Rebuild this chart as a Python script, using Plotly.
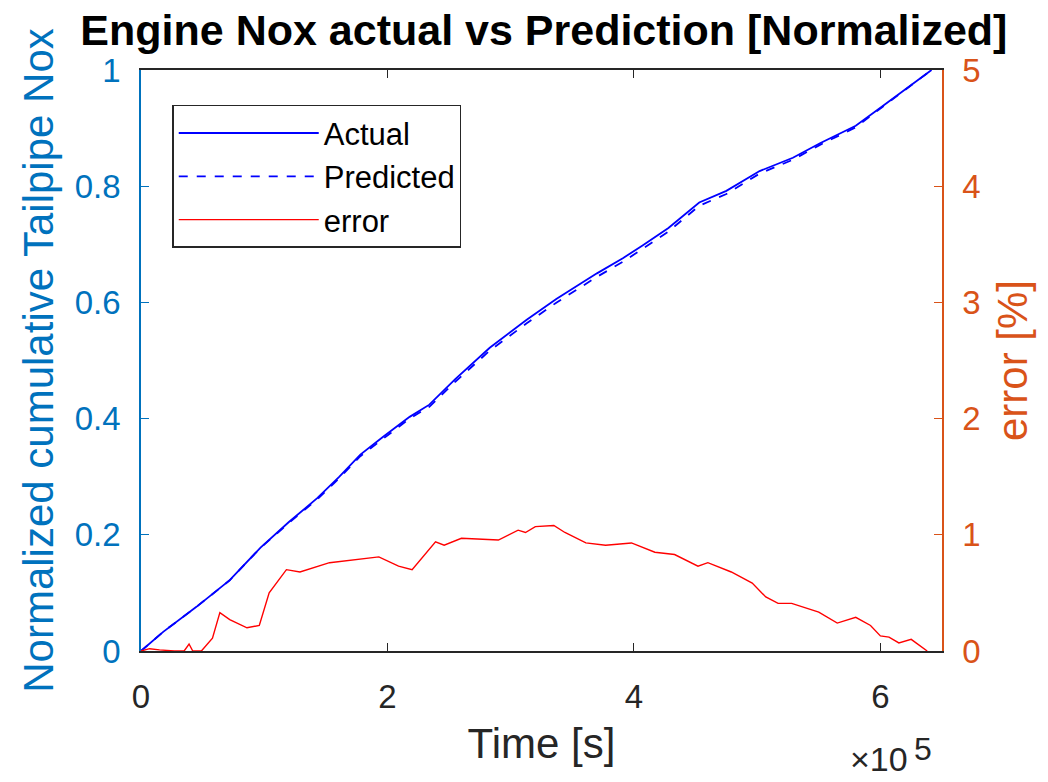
import plotly.graph_objects as go

# ---- data (time in seconds) ----
t_actual = [0, 0.18e5, 0.45e5, 0.72e5, 0.97e5, 1.20e5, 1.43e5, 1.61e5, 1.78e5, 1.96e5,
            2.18e5, 2.34e5, 2.55e5, 2.83e5, 3.13e5, 3.37e5, 3.70e5, 3.91e5, 4.07e5, 4.28e5,
            4.53e5, 4.75e5, 5.02e5, 5.29e5, 5.51e5, 5.73e5, 5.80e5, 6.00e5, 6.20e5, 6.415e5]
actual = [0, 0.033, 0.076, 0.122, 0.178, 0.222, 0.263, 0.300, 0.338, 0.368,
          0.403, 0.424, 0.468, 0.522, 0.570, 0.606, 0.650, 0.676, 0.698, 0.728,
          0.772, 0.792, 0.826, 0.849, 0.874, 0.897, 0.904, 0.935, 0.966, 1.000]
predicted = [0, 0.033, 0.076, 0.1217, 0.1776, 0.2204, 0.2611, 0.2977, 0.3353, 0.3651,
             0.4002, 0.4202, 0.4635, 0.5170, 0.5640, 0.5995, 0.6440, 0.6698, 0.6917, 0.7219,
             0.7664, 0.7865, 0.8217, 0.8455, 0.8711, 0.8946, 0.9014, 0.9338, 0.9651, 1.000]

t_err = [0, 0.07e5, 0.15e5, 0.27e5, 0.35e5, 0.39e5, 0.42e5, 0.49e5, 0.58e5, 0.64e5,
         0.72e5, 0.86e5, 0.96e5, 1.04e5, 1.18e5, 1.29e5, 1.53e5, 1.93e5, 2.09e5, 2.20e5,
         2.39e5, 2.46e5, 2.60e5, 2.90e5, 3.06e5, 3.12e5, 3.20e5, 3.35e5, 3.44e5, 3.61e5,
         3.77e5, 3.98e5, 4.17e5, 4.33e5, 4.52e5, 4.60e5, 4.79e5, 4.96e5, 5.07e5, 5.17e5,
         5.28e5, 5.50e5, 5.65e5, 5.80e5, 5.92e5, 6.00e5, 6.07e5, 6.15e5, 6.25e5, 6.38e5]
error = [0, 0.02, 0.01, 0, 0, 0.06, 0, 0, 0.11, 0.33,
         0.27, 0.20, 0.22, 0.50, 0.70, 0.68, 0.76, 0.81, 0.73, 0.70,
         0.94, 0.91, 0.97, 0.955, 1.04, 1.02, 1.07, 1.08, 1.02, 0.93,
         0.91, 0.93, 0.85, 0.83, 0.73, 0.76, 0.68, 0.585, 0.465, 0.41,
         0.41, 0.335, 0.24, 0.29, 0.22, 0.13, 0.12, 0.07, 0.10, 0]

x_tickvals = [0, 2e5, 4e5, 6e5]
x_ticktext = ["0", "2", "4", "6"]
y1_ticks = [0, 0.2, 0.4, 0.6, 0.8, 1]
y1_text = ["0", "0.2", "0.4", "0.6", "0.8", "1"]
y2_ticks = [0, 1, 2, 3, 4, 5]

BLUE_AX = "#0072BD"
ORANGE_AX = "#D95319"
DARK = "#262626"
FONT = "Liberation Sans, Arial, sans-serif"

fig = go.Figure()
fig.add_trace(go.Scatter(x=t_actual, y=actual, mode="lines", name="Actual",
                         line=dict(color="#0000FF", width=1.8)))
fig.add_trace(go.Scatter(x=t_actual, y=predicted, mode="lines", name="Predicted",
                         line=dict(color="#0000FF", width=1.8, dash="dash")))
fig.add_trace(go.Scatter(x=t_err, y=error, mode="lines", name="error", yaxis="y2",
                         line=dict(color="#FF0000", width=1.4)))

fig.update_layout(
    width=1048, height=782,
    margin=dict(l=141, r=106, t=70, b=131),
    paper_bgcolor="white", plot_bgcolor="white",
    font=dict(family=FONT, size=33, color=DARK),
    title=dict(text="<b>Engine Nox actual vs Prediction [Normalized]</b>",
               x=0.519, xanchor="center", y=0.962, yanchor="middle", yref="container",
               font=dict(size=43, color="black")),
    xaxis=dict(range=[0, 6.5e5], tickvals=x_tickvals, ticktext=x_ticktext,
               ticks="inside", ticklen=8, tickcolor=DARK, showline=True, linecolor=DARK,
               linewidth=1.5, mirror="ticks", showgrid=False, zeroline=False,
               tickfont=dict(size=33, color=DARK), ticklabelstandoff=16,
               title=dict(text="Time [s]", font=dict(size=42, color=DARK), standoff=14)),
    yaxis=dict(range=[0, 1], tickvals=y1_ticks, ticktext=y1_text,
               ticks="inside", ticklen=8, tickcolor=BLUE_AX, showline=True,
               linecolor=BLUE_AX, linewidth=1.5, showgrid=False, zeroline=False,
               tickfont=dict(size=33, color=BLUE_AX), ticklabelstandoff=12,
               title=dict(text="Normalized cumulative Tailpipe Nox",
                          font=dict(size=42, color=BLUE_AX), standoff=8)),
    yaxis2=dict(range=[0, 5], tickvals=y2_ticks, overlaying="y", side="right",
                ticks="inside", ticklen=8, tickcolor=ORANGE_AX, showline=True,
                linecolor=ORANGE_AX, linewidth=1.5, showgrid=False, zeroline=False,
                tickfont=dict(size=33, color=ORANGE_AX), ticklabelstandoff=12,
                title=dict(text="error [%]", font=dict(size=42, color=ORANGE_AX), standoff=18)),
    legend=dict(x=0.039, y=0.94, xanchor="left", yanchor="top",
                bgcolor="white", bordercolor=DARK, borderwidth=1.5,
                font=dict(size=31, color="black"), itemwidth=140,
                tracegroupgap=0),
    showlegend=True,
)

fig.add_annotation(text="\u00d710", xref="paper", yref="paper",
                   x=(910 - 141) / 801, y=(651 - 780) / 581, xanchor="right", yanchor="bottom",
                   showarrow=False, font=dict(size=34, color=DARK))
fig.add_annotation(text="5", xref="paper", yref="paper",
                   x=(934 - 141) / 801, y=(651 - 749) / 581, xanchor="right", yanchor="middle",
                   showarrow=False, font=dict(size=32, color=DARK))

fig.write_html("out.html")
